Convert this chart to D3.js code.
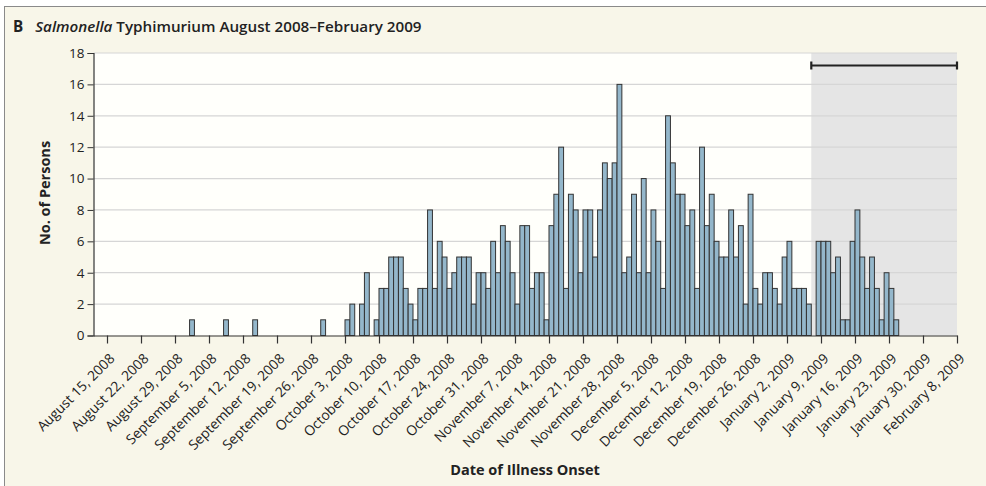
<!DOCTYPE html>
<html>
<head>
<meta charset="utf-8">
<script src="https://cdn.jsdelivr.net/npm/d3@7"></script>
<style>
  body { margin: 0; background: #fff; }
  svg { display: block; }
  text { font-family: "Open Sans", "Noto Sans", sans-serif; fill: #222; }
</style>
</head>
<body>
<svg id="chart" width="986" height="486"></svg>
<script>
// cases per day, first entry = August 15, 2008
var counts = [
  0, 0, 0, 0, 0, 0, 0, 0, 0, 0, 0, 0, 0, 0, 0, 0, 0, 1, 0, 0,
  0, 0, 0, 0, 1, 0, 0, 0, 0, 0, 1, 0, 0, 0, 0, 0, 0, 0, 0, 0,
  0, 0, 0, 0, 1, 0, 0, 0, 0, 1, 2, 0, 2, 4, 0, 1, 3, 3, 5, 5,
  5, 3, 2, 1, 3, 3, 8, 3, 6, 5, 3, 4, 5, 5, 5, 2, 4, 4, 3, 6,
  4, 7, 6, 4, 2, 7, 7, 3, 4, 4, 1, 7, 9, 12, 3, 9, 8, 4, 8, 8,
  5, 8, 11, 10, 11, 16, 4, 5, 9, 4, 10, 4, 8, 6, 3, 14, 11, 9, 9, 7,
  8, 3, 12, 7, 9, 6, 5, 5, 8, 5, 7, 2, 9, 3, 2, 4, 4, 3, 2, 5,
  6, 3, 3, 3, 2, 0, 6, 6, 6, 4, 5, 1, 1, 6, 8, 5, 3, 5, 3, 1,
  4, 3, 1
];

var weekLabels = [
  "August 15, 2008", "August 22, 2008", "August 29, 2008", "September 5, 2008",
  "September 12, 2008", "September 19, 2008", "September 26, 2008", "October 3, 2008",
  "October 10, 2008", "October 17, 2008", "October 24, 2008", "October 31, 2008",
  "November 7, 2008", "November 14, 2008", "November 21, 2008", "November 28, 2008",
  "December 5, 2008", "December 12, 2008", "December 19, 2008", "December 26, 2008",
  "January 2, 2009", "January 9, 2009", "January 16, 2009", "January 23, 2009",
  "January 30, 2009", "February 8, 2009"
];

var yTicks = [0, 2, 4, 6, 8, 10, 12, 14, 16, 18];

// shaded period (day index from Aug 15) and its bracket
var shadeStart = 145, shadeEnd = 175;

var svg = d3.select("#chart");

// panel
svg.append("rect").attr("x", 4.5).attr("y", 6.5).attr("width", 990).attr("height", 490)
    .attr("fill", "#f8f6e9").attr("stroke", "#8a8a8a").attr("stroke-width", 1);

var x = d3.scaleLinear().domain([-2.78, 175]).range([93.5, 957]);
var y = d3.scaleLinear().domain([0, 18]).range([335.5, 53]);

// plot background
svg.append("rect").attr("x", x(-2.78)).attr("y", y(18))
    .attr("width", x(175) - x(-2.78)).attr("height", y(0) - y(18))
    .attr("fill", "#fffffb");

svg.append("rect").attr("x", x(shadeStart)).attr("y", y(18))
    .attr("width", x(shadeEnd) - x(shadeStart)).attr("height", y(0) - y(18))
    .attr("fill", "#e5e5e5");

svg.append("g").selectAll("line").data(yTicks.slice(1)).join("line")
    .attr("x1", x(-2.78)).attr("x2", x(175))
    .attr("y1", function (d) { return y(d); }).attr("y2", function (d) { return y(d); })
    .attr("stroke", "#d6d6d6").attr("stroke-width", 1.2);

// bars
svg.append("g").selectAll("rect")
    .data(counts.map(function (v, i) { return {day: i, n: v}; }).filter(function (d) { return d.n > 0; }))
    .join("rect")
      .attr("x", function (d) { return x(d.day); })
      .attr("width", function (d) { return x(d.day + 1) - x(d.day); })
      .attr("y", function (d) { return y(d.n); })
      .attr("height", function (d) { return y(0) - y(d.n); })
      .attr("fill", "#94b7cb").attr("stroke", "#333").attr("stroke-width", 1);

// bracket over shaded period
var bracket = svg.append("g").attr("stroke", "#222").attr("stroke-width", 2.2);
bracket.append("line").attr("x1", x(shadeStart)).attr("x2", x(shadeEnd))
    .attr("y1", 65.5).attr("y2", 65.5);
[shadeStart, shadeEnd].forEach(function (d) {
  bracket.append("line").attr("x1", x(d)).attr("x2", x(d)).attr("y1", 61.5).attr("y2", 69.5);
});

// axes
var yAxis = d3.axisLeft(y).tickValues(yTicks).tickSize(6).tickPadding(3);
var gy = svg.append("g").attr("transform", "translate(" + x(-2.78) + ",0)").call(yAxis);
gy.select(".domain").attr("stroke", "#333").attr("stroke-width", 1.2);
gy.selectAll(".tick line").attr("stroke", "#333");
gy.selectAll("text").attr("font-size", 13.5).attr("fill", "#222");

var xAxis = d3.axisBottom(x)
    .tickValues(weekLabels.map(function (d, i) { return i * 7; }))
    .tickFormat(function (d) { return weekLabels[d / 7]; })
    .tickSize(8).tickSizeOuter(0);
var gx = svg.append("g").attr("transform", "translate(0," + y(0) + ")").call(xAxis);
gx.select(".domain").attr("stroke", "#333").attr("stroke-width", 1.2);
gx.selectAll(".tick line").attr("stroke", "#333").attr("stroke-width", 1.2);
gx.selectAll("text")
    .attr("font-size", 13.8).attr("fill", "#222")
    .attr("text-anchor", "end").attr("dy", null)
    .attr("transform", "translate(8,24) rotate(-45)")
    .attr("x", 0).attr("y", 0);

// titles
var title = svg.append("text").attr("x", 13).attr("y", 32).attr("font-size", 15.2).attr("font-weight", 700);
title.append("tspan").text("B");
title.append("tspan").attr("dx", 12).attr("font-style", "italic").attr("font-weight", 600).text("Salmonella");
title.append("tspan").attr("font-weight", 600).text(" Typhimurium August 2008\u2013February 2009");

svg.append("text").attr("transform", "translate(50,193) rotate(-90)")
    .attr("text-anchor", "middle").attr("font-size", 14.5).attr("font-weight", 700)
    .text("No. of Persons");

svg.append("text").attr("x", 525).attr("y", 475)
    .attr("text-anchor", "middle").attr("font-size", 14.5).attr("font-weight", 700)
    .text("Date of Illness Onset");
</script>
</body>
</html>
